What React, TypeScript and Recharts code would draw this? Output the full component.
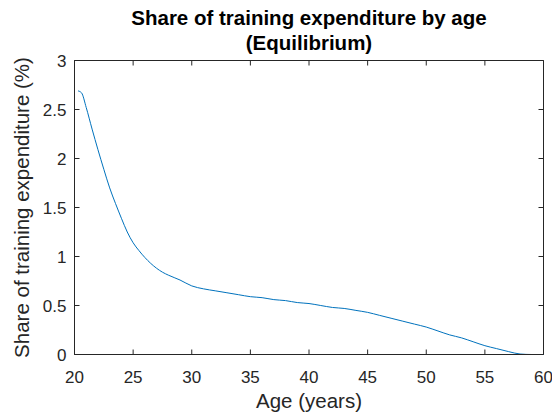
import { LineChart, Line, XAxis, YAxis, ReferenceLine, ReferenceArea } from "recharts";

const ages = [
  20.3, 20.6, 21, 21.5, 22, 22.5, 23, 23.5, 24, 24.5, 25, 25.5, 26, 26.5, 27,
  27.5, 28, 29, 30, 31, 32, 33, 34, 35, 36, 37, 38, 39, 40, 41, 42, 43, 44, 45,
  46, 47, 48, 49, 50, 51, 52, 53, 54, 55, 56, 57, 58, 59, 60,
];
const shares = [
  2.69, 2.67, 2.52, 2.3, 2.09, 1.89, 1.7, 1.54, 1.39, 1.25, 1.14, 1.06, 0.99,
  0.93, 0.88, 0.84, 0.81, 0.76, 0.7, 0.67, 0.65, 0.63, 0.61, 0.59, 0.58, 0.56,
  0.55, 0.53, 0.52, 0.5, 0.48, 0.47, 0.45, 0.43, 0.4, 0.37, 0.34, 0.31, 0.28,
  0.24, 0.2, 0.17, 0.13, 0.09, 0.06, 0.03, 0.005, 0, 0,
];
const xTicks = [20, 25, 30, 35, 40, 45, 50, 55, 60];
const yTicks = [0, 0.5, 1, 1.5, 2, 2.5, 3];

const titleLines = ["Share of training expenditure by age", "(Equilibrium)"];
const xLabel = "Age (years)";
const yLabel = "Share of training expenditure (%)";

const data = ages.map((a, i) => ({ age: a, share: shares[i] }));

const FONT = "'Liberation Sans', Arial, Helvetica, sans-serif";
const INK = "#262626";
const TICK_LEN = 5;

const BottomTick = (props: any) => {
  const { x, y, payload } = props;
  return (
    <g>
      <line x1={x} x2={x} y1={y} y2={y - TICK_LEN} stroke={INK} strokeWidth={1} />
      <text x={x} y={y + 28} textAnchor="middle" fontSize={17} fill={INK} fontFamily={FONT}>
        {payload.value}
      </text>
    </g>
  );
};

const LeftTick = (props: any) => {
  const { x, y, payload } = props;
  return (
    <g>
      <line x1={x} x2={x + TICK_LEN} y1={y} y2={y} stroke={INK} strokeWidth={1} />
      <text x={x - 8} y={y + 6} textAnchor="end" fontSize={17} fill={INK} fontFamily={FONT}>
        {payload.value}
      </text>
    </g>
  );
};

// inward tick hanging from the top edge of the box
const TopTickShape = (props: any) => {
  const { x1, y1, y2 } = props;
  const top = Math.min(y1, y2);
  return <line x1={x1} x2={x1} y1={top} y2={top + TICK_LEN} stroke={INK} strokeWidth={1} />;
};

// inward tick on the right edge of the box
const RightTickShape = (props: any) => {
  const { x1, x2, y1 } = props;
  const right = Math.max(x1, x2);
  return <line x1={right} x2={right - TICK_LEN} y1={y1} y2={y1} stroke={INK} strokeWidth={1} />;
};

export default function App() {
  return (
    <div style={{ position: "absolute", left: 0, top: 0, background: "#fff" }}>
      <LineChart
        width={552}
        height={417}
        data={data}
        margin={{ top: 60.5, right: 8.5, left: 14.5, bottom: 32.5 }}
      >
        <XAxis
          dataKey="age"
          type="number"
          domain={[20, 60]}
          ticks={xTicks}
          interval={0}
          tickSize={0}
          tickMargin={0}
          height={30}
          stroke={INK}
          tick={<BottomTick />}
        />
        <YAxis
          type="number"
          domain={[0, 3]}
          ticks={yTicks}
          interval={0}
          tickSize={0}
          tickMargin={0}
          width={60}
          stroke={INK}
          tick={<LeftTick />}
        />
        {/* axes box */}
        <ReferenceArea
          x1={20}
          x2={60}
          y1={0}
          y2={3}
          fill="none"
          fillOpacity={0}
          stroke={INK}
          strokeOpacity={1}
          strokeWidth={1}
          ifOverflow="visible"
        />
        {xTicks.map((t) => (
          <ReferenceLine key={"tx" + t} x={t} ifOverflow="visible" shape={TopTickShape} />
        ))}
        {yTicks.map((t) => (
          <ReferenceLine key={"ty" + t} y={t} ifOverflow="visible" shape={RightTickShape} />
        ))}
        <Line
          type="monotone"
          dataKey="share"
          stroke="#0072BD"
          strokeWidth={1}
          dot={false}
          isAnimationActive={false}
        />
        <text
          x={309}
          textAnchor="middle"
          fontSize={20.5}
          fontWeight="bold"
          fill="#000"
          fontFamily={FONT}
        >
          <tspan x={309} y={25}>{titleLines[0]}</tspan>
          <tspan x={309} y={50}>{titleLines[1]}</tspan>
        </text>
        <text x={309} y={408} textAnchor="middle" fontSize={20.5} fill={INK} fontFamily={FONT}>
          {xLabel}
        </text>
        <text
          x={0}
          y={0}
          transform="translate(29 207.5) rotate(-90)"
          textAnchor="middle"
          fontSize={20.5}
          fill={INK}
          fontFamily={FONT}
        >
          {yLabel}
        </text>
      </LineChart>
    </div>
  );
}
